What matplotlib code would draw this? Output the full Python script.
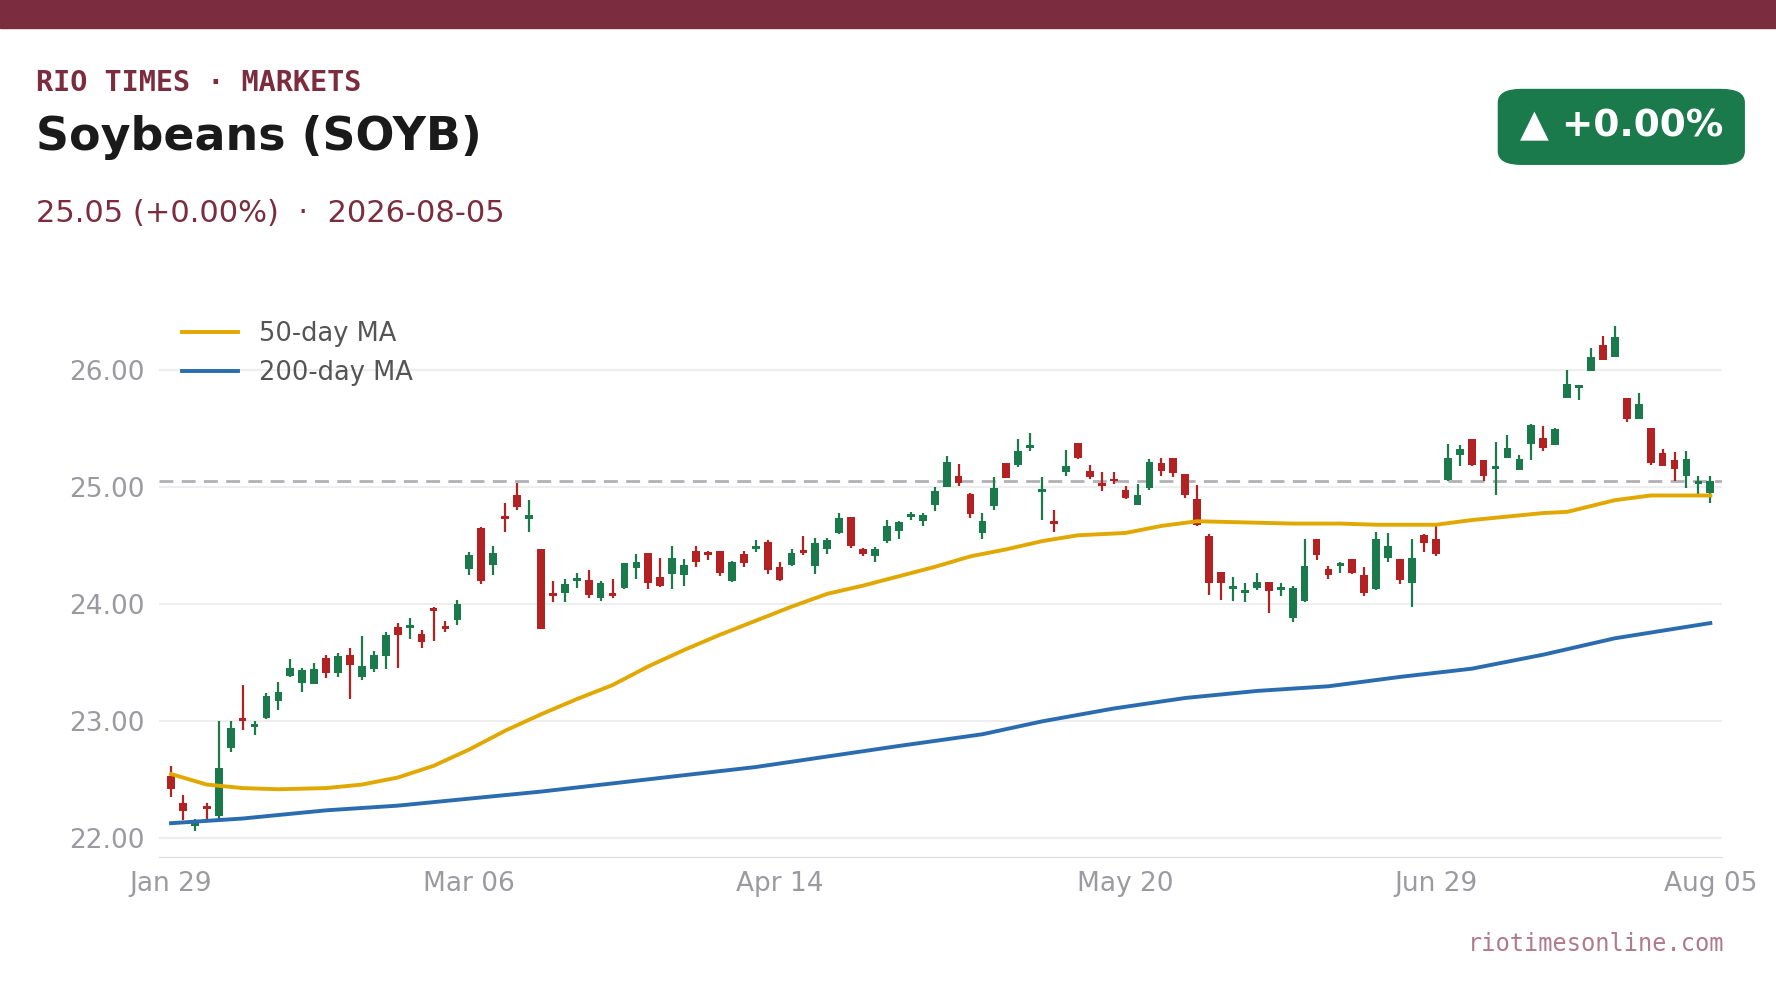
import numpy as np
import matplotlib.pyplot as plt
from matplotlib.patches import FancyBboxPatch, Rectangle

opens = [22.53, 22.30, 22.11, 22.27, 22.19, 22.77, 23.03, 22.95, 23.03, 23.17,
         23.39, 23.33, 23.32, 23.54, 23.41, 23.57, 23.38, 23.45, 23.56, 23.81,
         23.80, 23.75, 23.96, 23.81, 23.87, 24.30, 24.65, 24.34, 24.75, 24.93,
         24.73, 24.47, 24.10, 24.10, 24.20, 24.21, 24.05, 24.10, 24.14, 24.31,
         24.44, 24.23, 24.26, 24.25, 24.46, 24.44, 24.46, 24.20, 24.43, 24.47,
         24.53, 24.32, 24.34, 24.46, 24.33, 24.47, 24.61, 24.75, 24.47, 24.41,
         24.54, 24.63, 24.75, 24.71, 24.85, 25.00, 25.10, 24.94, 24.61, 24.84,
         25.21, 25.19, 25.34, 24.96, 24.71, 25.13, 25.38, 25.14, 25.03, 25.07,
         24.98, 24.85, 24.99, 25.21, 25.25, 25.11, 24.90, 24.58, 24.28, 24.13,
         24.10, 24.14, 24.19, 24.12, 23.88, 24.03, 24.56, 24.30, 24.33, 24.39,
         24.25, 24.13, 24.40, 24.39, 24.18, 24.59, 24.56, 25.06, 25.28, 25.41,
         25.23, 25.16, 25.25, 25.15, 25.37, 25.42, 25.36, 25.76, 25.85, 25.99,
         26.22, 26.11, 25.76, 25.58, 25.51, 25.29, 25.23, 25.10, 25.03, 24.95]
closes = [22.42, 22.23, 22.13, 22.25, 22.60, 22.94, 23.00, 22.98, 23.22, 23.25,
          23.46, 23.44, 23.45, 23.41, 23.56, 23.48, 23.47, 23.57, 23.74, 23.74,
          23.82, 23.68, 23.94, 23.79, 24.00, 24.42, 24.20, 24.44, 24.73, 24.83,
          24.76, 23.79, 24.07, 24.17, 24.22, 24.08, 24.18, 24.07, 24.35, 24.36,
          24.18, 24.16, 24.40, 24.34, 24.36, 24.42, 24.27, 24.36, 24.35, 24.49,
          24.29, 24.21, 24.44, 24.44, 24.52, 24.55, 24.74, 24.50, 24.43, 24.47,
          24.67, 24.70, 24.77, 24.76, 24.97, 25.22, 25.04, 24.77, 24.71, 24.99,
          25.08, 25.31, 25.36, 24.98, 24.69, 25.18, 25.25, 25.09, 25.01, 25.05,
          24.91, 24.93, 25.22, 25.14, 25.12, 24.93, 24.68, 24.18, 24.18, 24.15,
          24.12, 24.19, 24.11, 24.14, 24.14, 24.33, 24.42, 24.25, 24.35, 24.27,
          24.10, 24.56, 24.50, 24.21, 24.40, 24.52, 24.43, 25.25, 25.33, 25.19,
          25.10, 25.18, 25.34, 25.24, 25.53, 25.34, 25.50, 25.88, 25.86, 26.11,
          26.09, 26.28, 25.58, 25.71, 25.21, 25.18, 25.16, 25.24, 25.05, 25.05]
highs = [22.62, 22.37, 22.17, 22.30, 23.00, 23.00, 23.31, 23.00, 23.24, 23.34,
         23.53, 23.46, 23.50, 23.57, 23.58, 23.63, 23.73, 23.60, 23.76, 23.84,
         23.88, 23.78, 23.98, 23.86, 24.04, 24.45, 24.66, 24.50, 24.87, 25.04,
         24.89, 24.47, 24.20, 24.22, 24.27, 24.29, 24.20, 24.22, 24.35, 24.43,
         24.44, 24.40, 24.50, 24.39, 24.50, 24.46, 24.46, 24.37, 24.46, 24.55,
         24.55, 24.36, 24.47, 24.58, 24.57, 24.57, 24.78, 24.75, 24.48, 24.49,
         24.72, 24.71, 24.79, 24.78, 25.00, 25.27, 25.20, 24.95, 24.78, 25.09,
         25.21, 25.41, 25.46, 25.09, 24.81, 25.32, 25.38, 25.19, 25.13, 25.13,
         25.01, 25.03, 25.24, 25.25, 25.25, 25.11, 25.02, 24.60, 24.28, 24.23,
         24.18, 24.27, 24.19, 24.18, 24.16, 24.56, 24.56, 24.33, 24.36, 24.39,
         24.32, 24.62, 24.61, 24.39, 24.56, 24.60, 24.69, 25.37, 25.36, 25.41,
         25.23, 25.39, 25.45, 25.28, 25.54, 25.52, 25.51, 26.00, 25.87, 26.19,
         26.29, 26.38, 25.76, 25.81, 25.51, 25.33, 25.30, 25.31, 25.10, 25.10]
lows = [22.35, 22.16, 22.06, 22.14, 22.16, 22.74, 22.93, 22.88, 23.02, 23.10,
        23.38, 23.25, 23.32, 23.37, 23.38, 23.19, 23.35, 23.42, 23.45, 23.46,
        23.70, 23.63, 23.69, 23.76, 23.82, 24.25, 24.17, 24.25, 24.62, 24.81,
        24.62, 23.79, 24.02, 24.02, 24.14, 24.05, 24.03, 24.05, 24.13, 24.22,
        24.13, 24.15, 24.13, 24.16, 24.32, 24.38, 24.24, 24.19, 24.32, 24.45,
        24.26, 24.20, 24.33, 24.42, 24.26, 24.43, 24.60, 24.48, 24.41, 24.36,
        24.52, 24.56, 24.72, 24.67, 24.80, 25.00, 25.01, 24.74, 24.56, 24.81,
        25.08, 25.17, 25.31, 24.72, 24.62, 25.10, 25.24, 25.07, 24.97, 25.03,
        24.90, 24.85, 24.98, 25.10, 25.09, 24.91, 24.67, 24.08, 24.04, 24.03,
        24.02, 24.12, 23.93, 24.07, 23.85, 24.02, 24.38, 24.22, 24.27, 24.26,
        24.07, 24.12, 24.36, 24.17, 23.98, 24.45, 24.41, 25.05, 25.18, 25.18,
        25.05, 24.93, 25.25, 25.15, 25.23, 25.31, 25.36, 25.76, 25.75, 25.99,
        26.09, 26.11, 25.56, 25.58, 25.19, 25.18, 25.05, 24.99, 24.94, 24.87]

ma50_idx = [0, 3, 6, 9, 13, 16, 19, 22, 25, 28, 31, 34, 37, 40, 43, 46, 49, 52,
            55, 58, 61, 64, 67, 70, 73, 76, 80, 83, 86, 90, 94, 98, 101, 105,
            106, 109, 112, 115, 117, 121, 124, 129]
ma50 = [22.55, 22.46, 22.43, 22.42, 22.43, 22.46, 22.52, 22.62, 22.76, 22.92,
        23.06, 23.19, 23.31, 23.47, 23.61, 23.74, 23.86, 23.98, 24.09, 24.16,
        24.24, 24.32, 24.41, 24.47, 24.54, 24.59, 24.61, 24.67, 24.71, 24.70,
        24.69, 24.69, 24.68, 24.68, 24.68, 24.72, 24.75, 24.78, 24.79, 24.89,
        24.93, 24.93]
ma200_idx = [0, 6, 13, 19, 25, 31, 37, 43, 49, 55, 61, 68, 73, 79, 85, 91, 97,
             103, 109, 115, 121, 129]
ma200 = [22.13, 22.17, 22.24, 22.28, 22.34, 22.40, 22.47, 22.54, 22.61, 22.70,
         22.79, 22.89, 23.00, 23.11, 23.20, 23.26, 23.30, 23.38, 23.45, 23.57,
         23.71, 23.84]

tick_idx = [0, 25, 51, 80, 106, 129]
tick_labels = ["Jan 29", "Mar 06", "Apr 14", "May 20", "Jun 29", "Aug 05"]
last_price = 25.05

GREEN = "#1a7a4c"
RED = "#b22222"
MAROON = "#7b2d3f"

fig = plt.figure(figsize=(17.76, 9.99), dpi=100)
fig.patches.append(Rectangle((0, 0.972), 1, 0.028, transform=fig.transFigure,
                             color=MAROON, zorder=0))
fig.text(0.0205, 0.917, "RIO TIMES · MARKETS", family="DejaVu Sans Mono",
         fontweight="bold", fontsize=20.5, color=MAROON, va="center")
fig.text(0.0205, 0.862, "Soybeans (SOYB)", fontsize=33, fontweight="bold",
         color="#1a1a1a", va="center")
fig.text(0.0205, 0.786, "25.05 (+0.00%)  ·  2026-08-05", fontsize=22,
         color=MAROON, va="center")
badge = FancyBboxPatch((0.8437, 0.8356), 0.1384, 0.0748,
                       boxstyle="round,pad=0,rounding_size=0.013",
                       transform=fig.transFigure, color=GREEN)
fig.patches.append(badge)
fig.text(0.913, 0.874, "▲ +0.00%", fontsize=27, fontweight="bold",
         color="white", ha="center", va="center")
fig.text(0.971, 0.055, "riotimesonline.com", family="DejaVu Sans Mono",
         fontsize=17, color="#b07a8c", ha="right", va="center")

ax = fig.add_axes([0.0893, 0.142, 0.8801, 0.56])
x = np.arange(len(opens))
for i in x:
    o, c = opens[i], closes[i]
    col = GREEN if c >= o else RED
    ax.vlines(i, lows[i], highs[i], color=col, lw=1.6, zorder=3)
    ax.bar(i, max(abs(c - o), 0.025), bottom=min(o, c), width=0.65,
           color=col, zorder=3)

ax.plot(ma50_idx, ma50, color="#e0a800", lw=2.8, label="50-day MA", zorder=4)
ax.plot(ma200_idx, ma200, color="#2b6cb0", lw=2.8, label="200-day MA", zorder=4)
ax.axhline(last_price, color="#b0b0b5", lw=2, ls=(0, (5, 3)), zorder=2)

ax.set_xlim(-1.04, 129.95)
ax.set_ylim(21.84, 26.62)
ax.set_yticks([22, 23, 24, 25, 26])
ax.set_yticklabels([f"{v:.2f}" for v in [22, 23, 24, 25, 26]])
ax.set_xticks(tick_idx)
ax.set_xticklabels(tick_labels)
ax.grid(axis="y", color="#eeeeee", lw=1.5, zorder=0)
for s in ["top", "right", "left"]:
    ax.spines[s].set_visible(False)
ax.spines["bottom"].set_color("#dddddd")
ax.tick_params(length=0, labelsize=19, colors="#9a9aa0", pad=10)
leg = ax.legend(loc="upper left", frameon=False, fontsize=18.5,
                bbox_to_anchor=(0.0, 1.0), handlelength=2.2)
for t in leg.get_texts():
    t.set_color("#555555")

fig.savefig("out.png", dpi=100)
